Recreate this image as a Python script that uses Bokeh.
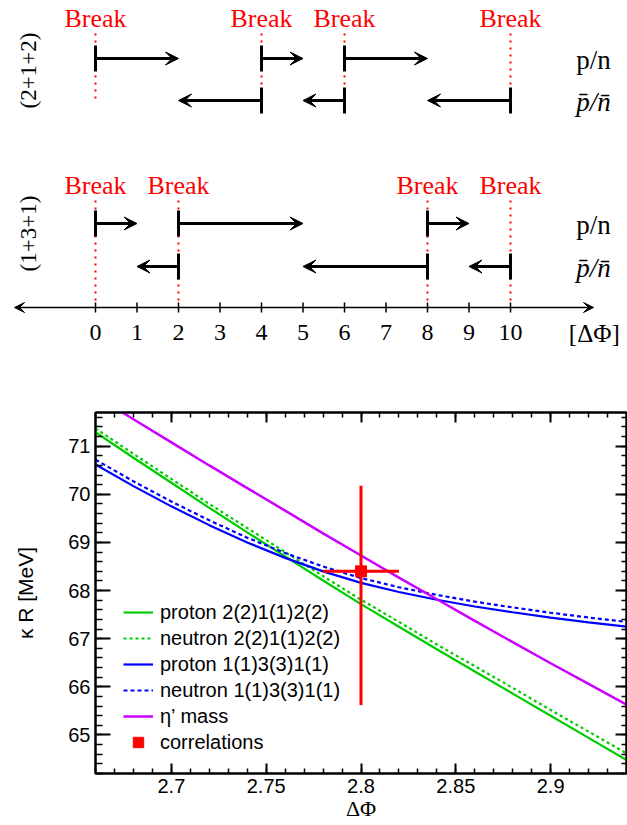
import numpy as np
from bokeh.plotting import figure
from bokeh.layouts import column
from bokeh.models import (ColumnDataSource, Arrow, VeeHead, Range1d, LinearAxis,
                          SingleIntervalTicker, CustomJSTickFormatter, Legend, LegendItem)
from bokeh.core.properties import value
from bokeh.embed import file_html
from bokeh.resources import INLINE

# ---------------- top diagram data ----------------
breaks_212 = [0, 4, 6, 10]
pn_212_start = [0, 4, 6]
pn_212_end = [2, 5, 8]
pbar_212_start = [4, 6, 10]
pbar_212_end = [2, 5, 8]

breaks_131 = [0, 2, 8, 10]
pn_131_start = [0, 2, 8]
pn_131_end = [1, 5, 9]
pbar_131_start = [2, 8, 10]
pbar_131_end = [1, 5, 9]

axis_ticks = list(range(11))
row_labels = ["(2+1+2)", "(1+3+1)"]

# ---------------- bottom plot data ----------------
dphi = [2.66, 2.68, 2.70, 2.72, 2.74, 2.76, 2.78, 2.80, 2.82, 2.84, 2.86, 2.88, 2.90, 2.92, 2.94]
proton_212 = [71.29, 70.76, 70.24, 69.72, 69.21, 68.71, 68.21, 67.72, 67.25, 66.78, 66.32, 65.86, 65.40, 64.94, 64.48]
neutron_212 = [71.37, 70.84, 70.32, 69.80, 69.30, 68.80, 68.30, 67.81, 67.35, 66.88, 66.43, 65.98, 65.52, 65.07, 64.62]
proton_131 = [70.62, 70.17, 69.75, 69.36, 69.00, 68.68, 68.40, 68.16, 67.97, 67.81, 67.67, 67.55, 67.44, 67.34, 67.25]
neutron_131 = [70.72, 70.27, 69.85, 69.46, 69.10, 68.78, 68.50, 68.26, 68.07, 67.91, 67.77, 67.65, 67.54, 67.44, 67.35]
eta_mass = [72.05, 71.56, 71.08, 70.60, 70.13, 69.66, 69.19, 68.73, 68.27, 67.82, 67.37, 66.93, 66.49, 66.06, 65.63]
corr_x = [2.80]
corr_y = [68.40]
corr_xerr = [0.02]
corr_yerr_up = [1.78]
corr_yerr_dn = [2.78]

SERIF = "Liberation Serif"
SANS = "Liberation Sans"
RED = "#ff0000"

# ================= top figure =================
p1 = figure(width=627, height=380, x_range=Range1d(-2.289, 12.819), y_range=Range1d(380, 0),
            output_backend="svg", toolbar_location=None, min_border=0,
            x_axis_location=None, y_axis_location=None)
p1.frame_align = False
p1.grid.visible = False
p1.outline_line_color = None

rows = [
    dict(breaks=breaks_212, pn0=pn_212_start, pn1=pn_212_end, pb0=pbar_212_start, pb1=pbar_212_end,
         yb=18, yd0=33, yd1=100, ypn=58, ypb=100, ylab=70, label=row_labels[0]),
    dict(breaks=breaks_131, pn0=pn_131_start, pn1=pn_131_end, pb0=pbar_131_start, pb1=pbar_131_end,
         yb=185, yd0=200, yd1=305, ypn=223, ypb=266, ylab=233, label=row_labels[1]),
]
HB = 13
for r in rows:
    nb = len(r["breaks"])
    p1.segment(x0=r["breaks"], y0=[r["yd0"]] * nb, x1=r["breaks"], y1=[r["yd1"]] * nb,
               line_color=RED, line_width=2, line_dash="2 5")
    p1.text(x=r["breaks"], y=[r["yb"]] * nb, text=["Break"] * nb, text_color=RED,
            text_font=value(SERIF), text_font_size="26px", text_align="center",
            text_baseline="middle")
    for xs, xe, yy in ((r["pn0"], r["pn1"], r["ypn"]), (r["pb0"], r["pb1"], r["ypb"])):
        n = len(xs)
        src = ColumnDataSource(dict(x0=xs, x1=xe, y=[yy] * n))
        p1.add_layout(Arrow(end=VeeHead(size=13, fill_color="black", line_color="black", line_width=1),
                            x_start="x0", y_start="y", x_end="x1", y_end="y", source=src,
                            line_width=3, line_color="black"))
        p1.segment(x0=xs, y0=[yy - HB] * n, x1=xs, y1=[yy + HB] * n, line_color="black", line_width=3)
    p1.text(x=[12.0], y=[r["ypn"] + 1], text=["p/n"], text_font=value(SERIF), text_font_size="27px",
            text_align="center", text_baseline="middle", text_color="black")
    p1.text(x=[12.0], y=[r["ypb"] + 1], text=["p\u0304/n\u0304"], text_font=value(SERIF),
            text_font_size="27px", text_font_style="italic",
            text_align="center", text_baseline="middle", text_color="black")
    p1.text(x=[-1.614], y=[r["ylab"]], text=[r["label"]], angle=np.pi / 2, text_font=value(SERIF),
            text_font_size="23px", text_align="center", text_baseline="middle", text_color="black")

# number line
p1.add_layout(Arrow(start=VeeHead(size=10, fill_color="black", line_color="black"),
                    end=VeeHead(size=10, fill_color="black", line_color="black"),
                    x_start=-1.95, y_start=307, x_end=12.0, y_end=307, line_width=1.5, line_color="black"))
nt = len(axis_ticks)
p1.segment(x0=axis_ticks, y0=[302] * nt, x1=axis_ticks, y1=[312] * nt, line_color="black", line_width=1.5)
p1.text(x=axis_ticks, y=[332] * nt, text=[str(t) for t in axis_ticks], text_font=value(SERIF),
        text_font_size="24px", text_align="center", text_baseline="middle", text_color="black")
p1.text(x=[12.02], y=[333], text=["[\u0394\u03a6]"], text_font=value(SERIF), text_font_size="25px",
        text_align="center", text_baseline="middle", text_color="black")

# ================= bottom figure =================
p2 = figure(width=627, height=445, x_range=Range1d(2.66, 2.94), y_range=Range1d(64.2, 71.7),
            output_backend="svg", toolbar_location=None,
            min_border_left=95, min_border_right=1, min_border_top=32, min_border_bottom=52)
p2.frame_align = False
p2.grid.visible = False
p2.outline_line_color = "black"
p2.outline_line_width = 2
p2.background_fill_color = "white"
p2.border_fill_color = "white"

xfmt = CustomJSTickFormatter(code="return (Math.round(tick*100)/100).toString();")
nofmt = CustomJSTickFormatter(code="return '';")


def style_axis(ax, tin, minin, labels=True):
    ax.axis_line_width = 2
    ax.axis_line_color = "black"
    ax.major_tick_in = tin
    ax.major_tick_out = 0
    ax.minor_tick_in = minin
    ax.minor_tick_out = 0
    ax.major_tick_line_width = 2
    ax.minor_tick_line_width = 1.5
    ax.major_label_text_font = SANS
    ax.major_label_text_color = "black"
    if labels:
        ax.major_label_text_font_size = "20px"
        ax.major_label_standoff = 5
    else:
        ax.formatter = nofmt
        ax.major_label_text_font_size = "1px"
        ax.major_label_standoff = 0


xticker = SingleIntervalTicker(interval=0.05, num_minor_ticks=5)
yticker = SingleIntervalTicker(interval=1, num_minor_ticks=5)

xa = p2.xaxis[0]
xa.ticker = xticker
xa.formatter = xfmt
style_axis(xa, 10, 5)
xa.axis_label = "\u0394\u03a6"
xa.axis_label_text_font = SERIF
xa.axis_label_text_font_style = "normal"
xa.axis_label_text_font_size = "22px"
xa.axis_label_standoff = 0
xa.axis_label_text_color = "black"

ya = p2.yaxis[0]
ya.ticker = yticker
style_axis(ya, 15, 7)
ya.axis_label = "\u03ba R [MeV]"
ya.axis_label_text_font = SANS
ya.axis_label_text_font_style = "normal"
ya.axis_label_text_font_size = "21px"
ya.axis_label_standoff = 28
ya.axis_label_text_color = "black"

ra = LinearAxis(ticker=yticker)
style_axis(ra, 11, 5, labels=False)
p2.add_layout(ra, "right")
ta = LinearAxis(ticker=xticker)
style_axis(ta, 10, 5, labels=False)
p2.add_layout(ta, "above")

GREEN = "#00cc00"
BLUE = "#0000ff"
MAG = "#cc00ff"
r1 = p2.line(dphi, proton_212, line_color=GREEN, line_width=2.2)
r2 = p2.line(dphi, neutron_212, line_color=GREEN, line_width=2.2, line_dash="3 3")
r3 = p2.line(dphi, proton_131, line_color=BLUE, line_width=2.2)
r4 = p2.line(dphi, neutron_131, line_color=BLUE, line_width=2.2, line_dash="4 3")
r5 = p2.line(dphi, eta_mass, line_color=MAG, line_width=2.5)

cx = np.array(corr_x)
cy = np.array(corr_y)
p2.segment(x0=cx - np.array(corr_xerr), y0=cy, x1=cx + np.array(corr_xerr), y1=cy,
           line_color=RED, line_width=3)
p2.segment(x0=cx, y0=cy - np.array(corr_yerr_dn), x1=cx, y1=cy + np.array(corr_yerr_up),
           line_color=RED, line_width=3)
r6 = p2.scatter(corr_x, corr_y, marker="square", size=11, fill_color=RED, line_color=RED)

legend = Legend(items=[
    LegendItem(label="proton 2(2)1(1)2(2)", renderers=[r1]),
    LegendItem(label="neutron 2(2)1(1)2(2)", renderers=[r2]),
    LegendItem(label="proton 1(1)3(3)1(1)", renderers=[r3]),
    LegendItem(label="neutron 1(1)3(3)1(1)", renderers=[r4]),
    LegendItem(label="\u03b7\u2019 mass", renderers=[r5]),
    LegendItem(label="correlations", renderers=[r6]),
], location=(28, 18))
legend.label_text_font = SANS
legend.label_text_font_size = "20px"
legend.label_text_color = "black"
legend.glyph_width = 30
legend.glyph_height = 26
legend.label_height = 26
legend.label_standoff = 7
legend.spacing = 0
legend.padding = 0
legend.margin = 0
legend.border_line_color = None
legend.background_fill_alpha = 0
p2.add_layout(legend, "center")

layout = column(p1, p2)
open("out.html", "w").write(file_html(layout, INLINE))
